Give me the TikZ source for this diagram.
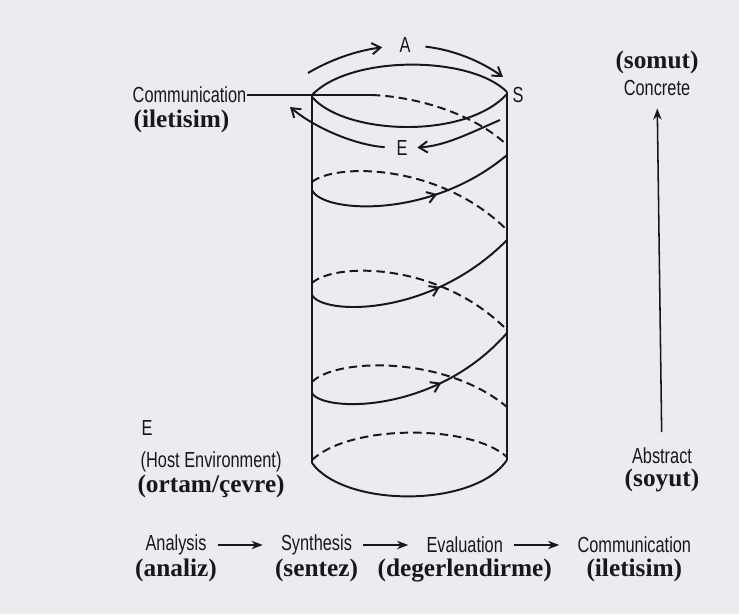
\documentclass[tikz,border=0pt]{standalone}
\usepackage{fontspec}
\setmainfont{Liberation Serif}
\newfontfamily\narrowsf[FakeStretch=0.75]{Liberation Sans}
\usetikzlibrary{positioning,arrows.meta,decorations.markings}
\definecolor{paper}{RGB}{236,236,240}
\definecolor{ink}{RGB}{24,24,28}
\begin{document}
\begin{tikzpicture}[x=0.025cm, y=-0.025cm, >={Stealth[length=8pt,width=6pt]}, node distance=1.83cm,
  every node/.style={inner sep=0.3pt, text=ink},
  eng/.style={font=\narrowsf\fontsize{15.5}{18}\selectfont},
  tur/.style={font=\bfseries\fontsize{18}{21}\selectfont},
  wire/.style={color=ink, line width=1.4pt},
  hidden/.style={wire, dash pattern=on 6pt off 3.5pt},
  barb/.style={-{Straight Barb[length=6pt,width=8pt]}},
  front/.style={wire, postaction={decorate}, decoration={markings, mark=at position 0.62 with {\arrow{Straight Barb[length=6pt,width=8pt]}}}}]
  \fill[paper] (0,0) rectangle (739,614);
  \useasboundingbox (0,0) rectangle (739,614);

  % labels round the top of the cylinder
  \node[eng] (atop) at (405,45) {A};
  \node[eng] (stop) at (518,95) {S};
  \node[eng] (etop) at (402,148) {E};
  \node[eng, anchor=west] (commtop) at (132,95) {Communication};
  \node[tur, anchor=west] (iletisimtop) at (133,121) {(iletisim)};
  \coordinate (commend) at (372,95);
  \coordinate (astart) at (308,73);
  \coordinate (aend) at (503,77);
  \coordinate (estart) at (500,120);
  \coordinate (eend) at (290,107);

  % host environment
  \node[eng, anchor=west] (ehost) at (141,428) {E};
  \node[eng, anchor=west] (host) at (140,462) {(Host Environment)};
  \node[tur] (ortam) [below of=host, node distance=0.6cm] {(ortam/çevre)};

  % concrete / abstract
  \node[eng] (concrete) at (657,88) {Concrete};
  \node[tur] (somut) [above of=concrete, node distance=0.64cm] {(somut)};
  \node[eng] (abstract) at (662,456) {Abstract};
  \node[tur] (soyut) [below of=abstract, node distance=0.62cm] {(soyut)};
  \draw[wire, line width=1.1pt, ->, shorten <=0.38cm, shorten >=0.3cm] (abstract) -- (concrete);

  % cylinder
  \draw[wire] (312,95) -- (312,463);
  \draw[wire] (507,92) -- (507,460);
  \draw[wire] (312,95) .. controls (350,55) and (470,55) .. (507,92);
  \draw[wire] (312,97) .. controls (345,135) and (465,140) .. (507,94);
  \draw[wire] (commtop) -- (commend);
  \draw[hidden] (commend) .. controls (420,97) and (475,115) .. (507,145);

  % spiral
  \draw[front] (312,190) .. controls (322,213) and (430,220) .. (507,155);
  \draw[hidden] (312,182) .. controls (335,163) and (440,163) .. (507,230);
  \draw[front] (312,295) .. controls (322,315) and (430,318) .. (507,240);
  \draw[hidden] (312,283) .. controls (335,262) and (440,262) .. (507,330);
  \draw[front] (312,393) .. controls (322,412) and (435,415) .. (507,333);
  \draw[hidden] (312,382) .. controls (335,358) and (445,355) .. (507,407);
  \draw[hidden] (312,460) .. controls (350,424) and (470,424) .. (507,457);
  \draw[wire] (312,463) .. controls (345,508) and (475,508) .. (507,460);

  % A-S-E cycle
  \draw[wire, barb, shorten >=0.42cm] (astart) .. controls (330,60) and (355,51) .. (atop.west);
  \draw[wire, barb, shorten <=0.36cm] (atop.east) .. controls (455,50) and (482,62) .. (aend);
  \draw[wire, barb, shorten >=0.23cm] (estart) .. controls (470,133) and (445,146) .. (etop.east);
  \draw[wire, barb, shorten <=0.28cm] (etop.west) .. controls (355,145) and (315,128) .. (eend);

  % design process
  \node[eng] (analysis) at (176,545) {Analysis};
  \node[eng] (synthesis) [right=of analysis] {Synthesis};
  \node[eng] (evaluation) [right=of synthesis] {Evaluation};
  \node[eng] (communication) [right=of evaluation] {Communication};
  \node[tur] (analiz) [below of=analysis, node distance=0.64cm] {(analiz)};
  \node[tur] (sentez) [below of=synthesis, node distance=0.64cm] {(sentez)};
  \node[tur] (degerlendirme) [below of=evaluation, node distance=0.64cm] {(degerlendirme)};
  \node[tur] (iletisim) [below of=communication, node distance=0.64cm] {(iletisim)};
  \draw[wire, line width=1.1pt, ->, shorten <=0.27cm, shorten >=0.44cm] (analysis) -- (synthesis);
  \draw[wire, line width=1.1pt, ->, shorten <=0.27cm, shorten >=0.44cm] (synthesis) -- (evaluation);
  \draw[wire, line width=1.1pt, ->, shorten <=0.27cm, shorten >=0.44cm] (evaluation) -- (communication);
\end{tikzpicture}
\end{document}
